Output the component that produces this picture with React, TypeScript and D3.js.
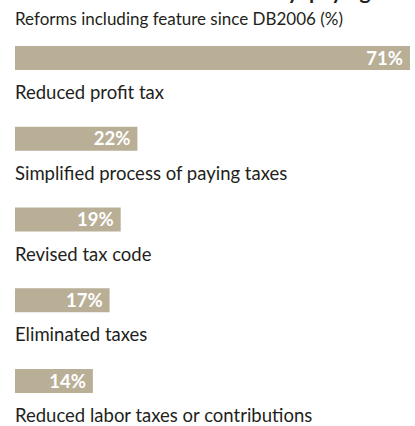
import React from "react";
import * as d3 from "d3";

const categories = [
  "Reduced profit tax",
  "Simplified process of paying taxes",
  "Revised tax code",
  "Eliminated taxes",
  "Reduced labor taxes or contributions",
];
const values = [71, 22, 19, 17, 14];
const subtitle = "Reforms including feature since DB2006 (%)";
const title = "Reforms cut rates and made it easy: paying taxes";

const W = 415;
const H = 426;
const FONT = "Lato, 'Open Sans', sans-serif";
const BAR = "#b9af97";
const TEXT = "#231f20";

export default function App() {
  const x = d3.scaleLinear().domain([0, 71]).range([15, 410]);
  const y = d3
    .scaleLinear()
    .domain([0, categories.length - 1])
    .range([46, 369]);
  const bh = 24;

  return (
    <svg
      width={W}
      height={H}
      style={{ position: "absolute", left: 0, top: 0, background: "#fff" }}
      fontFamily={FONT}
    >
      <text x={-27} y={-1} fontSize={21} fontWeight={700} fill={TEXT}>
        {title}
      </text>
      <text x={15} y={25} fontSize={17} fill={TEXT}>
        {subtitle}
      </text>
      {categories.map((c, i) => {
        const y0 = y(i);
        return (
          <g key={c}>
            <rect x={x(0)} y={y0} width={x(values[i]) - x(0)} height={bh} fill={BAR} />
            <text
              x={x(values[i]) - 7}
              y={y0 + bh / 2 + 6.5}
              textAnchor="end"
              fontSize={18.5}
              fontWeight={700}
              fill="#fff"
            >
              {values[i]}%
            </text>
            <text x={15} y={y0 + bh + 29} fontSize={18.5} fill={TEXT}>
              {c}
            </text>
          </g>
        );
      })}
    </svg>
  );
}
